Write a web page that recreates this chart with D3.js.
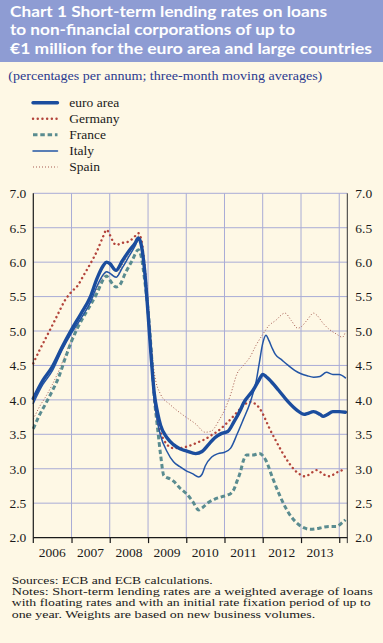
<!DOCTYPE html>
<html><head><meta charset="utf-8">
<script src="https://cdn.jsdelivr.net/npm/d3@7"></script>
<style>html,body{margin:0;padding:0;background:#FEF8E5;}svg{display:block;}
.serif{font-family:"Liberation Serif","Times New Roman","DejaVu Serif",serif;}
.sans{font-family:Lato,"Open Sans",sans-serif;}</style>
</head><body><svg id="c" width="383" height="643"></svg>
<script>
// ---- data ----
const yearLabels = ["2006","2007","2008","2009","2010","2011","2012","2013"];
const yTicks = [2.0,2.5,3.0,3.5,4.0,4.5,5.0,5.5,6.0,6.5,7.0];
const seriesNames = ["euro area","Germany","France","Italy","Spain"];

const euroMonths = ["2006-01","2006-04","2006-07","2006-10","2007-01","2007-04","2007-07","2007-09","2007-11","2007-12","2008-01","2008-03","2008-05","2008-07","2008-09","2008-10","2008-11","2008-12","2009-01","2009-02","2009-03","2009-04","2009-05","2009-07","2009-09","2009-11","2010-01","2010-04","2010-06","2010-08","2010-10","2010-12","2011-02","2011-04","2011-06","2011-07","2011-10","2011-12","2012-01","2012-02","2012-03","2012-06","2012-09","2012-12","2013-02","2013-03","2013-05","2013-07","2013-08","2013-09","2013-11","2014-01","2014-03"];
const euroValues = [4.02,4.28,4.48,4.76,5.02,5.25,5.50,5.76,5.95,6.00,5.98,5.88,6.02,6.16,6.28,6.35,6.22,5.85,5.25,4.60,4.10,3.82,3.63,3.45,3.35,3.29,3.26,3.22,3.25,3.35,3.45,3.51,3.54,3.68,3.85,3.95,4.14,4.30,4.37,4.34,4.30,4.14,3.97,3.84,3.79,3.80,3.83,3.79,3.76,3.78,3.83,3.83,3.82];

const germanyMonths = ["2006-01","2006-03","2006-05","2006-07","2006-09","2006-11","2007-01","2007-03","2007-05","2007-07","2007-09","2007-11","2007-12","2008-01","2008-02","2008-03","2008-05","2008-07","2008-09","2008-10","2008-11","2008-12","2009-01","2009-02","2009-03","2009-04","2009-05","2009-06","2009-07","2009-09","2009-11","2010-01","2010-03","2010-05","2010-07","2010-09","2010-11","2011-01","2011-03","2011-05","2011-07","2011-09","2011-11","2011-12","2012-01","2012-02","2012-03","2012-05","2012-07","2012-09","2012-11","2013-01","2013-02","2013-03","2013-05","2013-06","2013-08","2013-10","2013-12","2014-02"];
const germanyValues = [4.53,4.72,4.90,5.08,5.27,5.45,5.57,5.66,5.82,5.98,6.16,6.38,6.47,6.40,6.30,6.25,6.28,6.30,6.38,6.42,6.30,5.90,5.30,4.65,4.05,3.72,3.52,3.42,3.35,3.30,3.30,3.32,3.35,3.39,3.43,3.49,3.55,3.63,3.72,3.82,3.92,3.97,3.93,3.88,3.80,3.70,3.60,3.42,3.25,3.10,2.98,2.91,2.89,2.90,2.96,2.98,2.92,2.89,2.94,2.98];

const franceMonths = ["2006-01","2006-03","2006-05","2006-07","2006-09","2006-11","2007-01","2007-03","2007-05","2007-07","2007-09","2007-11","2007-12","2008-01","2008-03","2008-04","2008-06","2008-08","2008-10","2008-11","2008-12","2009-01","2009-02","2009-03","2009-04","2009-05","2009-06","2009-08","2009-09","2009-11","2010-01","2010-03","2010-05","2010-06","2010-08","2010-10","2010-12","2011-02","2011-03","2011-04","2011-05","2011-06","2011-07","2011-08","2011-10","2011-12","2012-02","2012-04","2012-06","2012-08","2012-10","2012-12","2013-02","2013-04","2013-06","2013-08","2013-10","2013-12","2014-02","2014-03"];
const franceValues = [3.58,3.78,3.95,4.13,4.33,4.60,4.85,5.05,5.22,5.38,5.55,5.75,5.80,5.74,5.64,5.66,5.85,6.02,6.18,6.05,5.72,5.30,4.70,4.05,3.60,3.20,2.90,2.85,2.82,2.72,2.64,2.53,2.40,2.43,2.51,2.56,2.59,2.62,2.64,2.70,2.82,2.95,3.12,3.20,3.20,3.22,3.12,2.88,2.65,2.45,2.30,2.20,2.14,2.12,2.13,2.15,2.16,2.16,2.22,2.26];

const italyMonths = ["2006-01","2006-04","2006-07","2006-10","2007-01","2007-04","2007-07","2007-09","2007-11","2007-12","2008-01","2008-03","2008-05","2008-07","2008-09","2008-10","2008-11","2008-12","2009-01","2009-02","2009-03","2009-04","2009-05","2009-07","2009-09","2009-11","2010-01","2010-03","2010-05","2010-06","2010-07","2010-09","2010-11","2011-01","2011-03","2011-05","2011-07","2011-09","2011-10","2011-11","2011-12","2012-01","2012-02","2012-03","2012-04","2012-05","2012-07","2012-09","2012-11","2013-01","2013-03","2013-05","2013-07","2013-09","2013-11","2014-01","2014-03"];
const italyValues = [3.95,4.22,4.42,4.72,4.97,5.18,5.42,5.65,5.82,5.86,5.84,5.78,5.92,6.08,6.24,6.33,6.20,5.82,5.20,4.55,4.00,3.68,3.48,3.25,3.10,3.03,2.97,2.93,2.88,2.92,3.04,3.17,3.22,3.24,3.30,3.50,3.72,3.95,4.10,4.28,4.55,4.82,4.94,4.86,4.75,4.66,4.58,4.50,4.43,4.38,4.35,4.33,4.34,4.40,4.37,4.37,4.32];

const spainMonths = ["2006-01","2006-03","2006-05","2006-07","2006-09","2006-11","2007-01","2007-03","2007-05","2007-07","2007-09","2007-11","2007-12","2008-01","2008-03","2008-05","2008-07","2008-09","2008-10","2008-11","2008-12","2009-01","2009-02","2009-03","2009-05","2009-08","2009-12","2010-04","2010-07","2010-09","2010-10","2010-11","2011-01","2011-03","2011-05","2011-07","2011-09","2011-11","2012-01","2012-03","2012-05","2012-08","2012-10","2012-12","2013-01","2013-03","2013-05","2013-06","2013-08","2013-10","2013-12","2014-02","2014-03"];
const spainValues = [3.72,3.90,4.05,4.22,4.42,4.65,4.88,5.08,5.25,5.42,5.62,5.80,5.86,5.84,5.79,5.96,6.13,6.28,6.38,6.30,6.00,5.45,4.80,4.40,4.08,3.93,3.78,3.65,3.53,3.55,3.60,3.68,3.85,4.08,4.38,4.50,4.62,4.80,4.95,5.08,5.15,5.26,5.15,5.04,5.06,5.16,5.26,5.23,5.11,5.02,4.96,4.91,4.99];

// ---- drawing ----
const parse = d3.timeParse("%Y-%m");
const svg = d3.select("#c");
const W = 383, H = 643;
const L = 33.3, R = 347.3, T = 193.3, B = 537.6;

svg.append("rect").attr("width",W).attr("height",H).attr("fill","#FEF8E5");
svg.append("rect").attr("width",W).attr("height",62).attr("fill","#8E9CD3");

const titleLines = ["Chart 1 Short-term lending rates on loans","to non-financial corporations of up to","€1 million for the euro area and large countries"];
const titleY = [17.3, 35.4, 53.5], titleW = [317, 285, 362];
titleLines.forEach((t,i)=>{
  svg.append("text").attr("class","sans").attr("x",10).attr("y",titleY[i]).text(t)
    .attr("font-weight",700).attr("font-size",15.5)
    .attr("fill","#ffffff").attr("textLength",titleW[i]).attr("lengthAdjust","spacingAndGlyphs");
});
svg.append("text").attr("class","serif").attr("x",8.3).attr("y",79.5).text("(percentages per annum; three-month moving averages)")
  .attr("font-size",13.5).attr("fill","#2B3A8F")
  .attr("textLength",314).attr("lengthAdjust","spacingAndGlyphs");

const x = d3.scaleTime().domain([new Date(2006,0,1), new Date(2014,2,19)]).range([L,R]);
const y = d3.scaleLinear().domain([2,7]).range([B,T]);

const styles = {
  "euro area": {color:"#1B4D9E", width:3.4, dash:null, cap:"round"},
  "Germany":   {color:"#B3443B", width:2.4, dash:"0.1 4.6", cap:"round"},
  "France":    {color:"#5A8C90", width:3.0, dash:"4.5 2.8", cap:"butt"},
  "Italy":     {color:"#2355A5", width:1.5, dash:null, cap:"round"},
  "Spain":     {color:"#A55A50", width:1.0, dash:"1 2", cap:"butt"}
};
const seriesData = {
  "euro area": [euroMonths, euroValues],
  "Germany": [germanyMonths, germanyValues],
  "France": [franceMonths, franceValues],
  "Italy": [italyMonths, italyValues],
  "Spain": [spainMonths, spainValues]
};

// grid
const grid = svg.append("g");
const years = d3.timeYear.range(new Date(2007,0,1), new Date(2014,0,2));
grid.selectAll("line.v").data(years).join("line")
  .attr("x1",d=>x(d)).attr("x2",d=>x(d)).attr("y1",T).attr("y2",B)
  .attr("stroke","#A9ACD6").attr("stroke-width",1);
grid.selectAll("line.h").data(yTicks.slice(1)).join("line").attr("class","h")
  .attr("x1",L).attr("x2",R).attr("y1",d=>y(d)).attr("y2",d=>y(d))
  .attr("stroke","#A9ACD6").attr("stroke-width",1);

// legend
const legY = [102.7, 118.7, 134.7, 151, 167];
seriesNames.forEach((n,i)=>{
  const s = styles[n];
  svg.append("line").attr("x1",33).attr("x2",57.5).attr("y1",legY[i]).attr("y2",legY[i])
    .attr("stroke",s.color).attr("stroke-width",s.width).attr("stroke-dasharray",s.dash)
    .attr("stroke-linecap",s.cap);
  svg.append("text").attr("class","serif").attr("x",69.3).attr("y",legY[i]+4.3).text(n)
    .attr("font-size",13.5).attr("fill","#1a1a1a");
});

// lines
const line = d3.line().x(d=>x(d[0])).y(d=>y(d[1])).curve(d3.curveMonotoneX);
["Spain","France","Germany","Italy","euro area"].forEach(n=>{
  const [m,v] = seriesData[n];
  const pts = m.map((d,i)=>[parse(d), v[i]]);
  const s = styles[n];
  svg.append("path").attr("d",line(pts)).attr("fill","none")
    .attr("stroke",s.color).attr("stroke-width",s.width)
    .attr("stroke-dasharray",s.dash).attr("stroke-linecap",s.cap).attr("stroke-linejoin","round");
});

// axes
const axL = svg.append("g").attr("transform",`translate(${L},0)`)
  .call(d3.axisLeft(y).tickValues(yTicks).tickFormat(d3.format(".1f")).tickSize(0).tickPadding(7));
const axR = svg.append("g").attr("transform",`translate(${R},0)`)
  .call(d3.axisRight(y).tickValues(yTicks).tickFormat(d3.format(".1f")).tickSize(0).tickPadding(8));
[axL,axR].forEach(a=>{
  a.attr("font-family",null);
  a.select(".domain").remove();
  a.selectAll("text").attr("class","serif").attr("font-size",13.5).attr("fill","#1a1a1a");
});
svg.append("line").attr("x1",L).attr("x2",L).attr("y1",T).attr("y2",B+5.5).attr("stroke","#1a1a1a").attr("stroke-width",1.2);
svg.append("line").attr("x1",R).attr("x2",R).attr("y1",T).attr("y2",B+5.5).attr("stroke","#333").attr("stroke-width",1);
const axB = svg.append("g").attr("transform",`translate(0,${B})`)
  .call(d3.axisBottom(x).tickValues(years).tickFormat("").tickSize(5.5));
axB.select(".domain").attr("d",`M${L},0H${R}`).attr("stroke","#1a1a1a").attr("stroke-width",1.2);
axB.selectAll(".tick line").attr("stroke","#1a1a1a").attr("stroke-width",1.2);

svg.append("g").selectAll("text").data(yearLabels).join("text").attr("class","serif")
  .attr("x",d=>x(new Date(+d,6,2))).attr("y",557).attr("text-anchor","middle").text(d=>d)
  .attr("font-size",13.5).attr("fill","#1a1a1a");

// footer
const foot = ["Sources: ECB and ECB calculations.",
  "Notes: Short-term lending rates are a weighted average of loans",
  "with floating rates and with an initial rate fixation period of up to",
  "one year. Weights are based on new business volumes."];
const footY = [583.6, 595, 606.4, 617.8], footW = [201, 361, 359, 303.5];
foot.forEach((t,i)=>{
  svg.append("text").attr("class","serif").attr("x",11.7).attr("y",footY[i]).text(t)
    .attr("font-size",11).attr("fill","#1a1a1a")
    .attr("textLength",footW[i]).attr("lengthAdjust","spacingAndGlyphs");
});
</script></body></html>
